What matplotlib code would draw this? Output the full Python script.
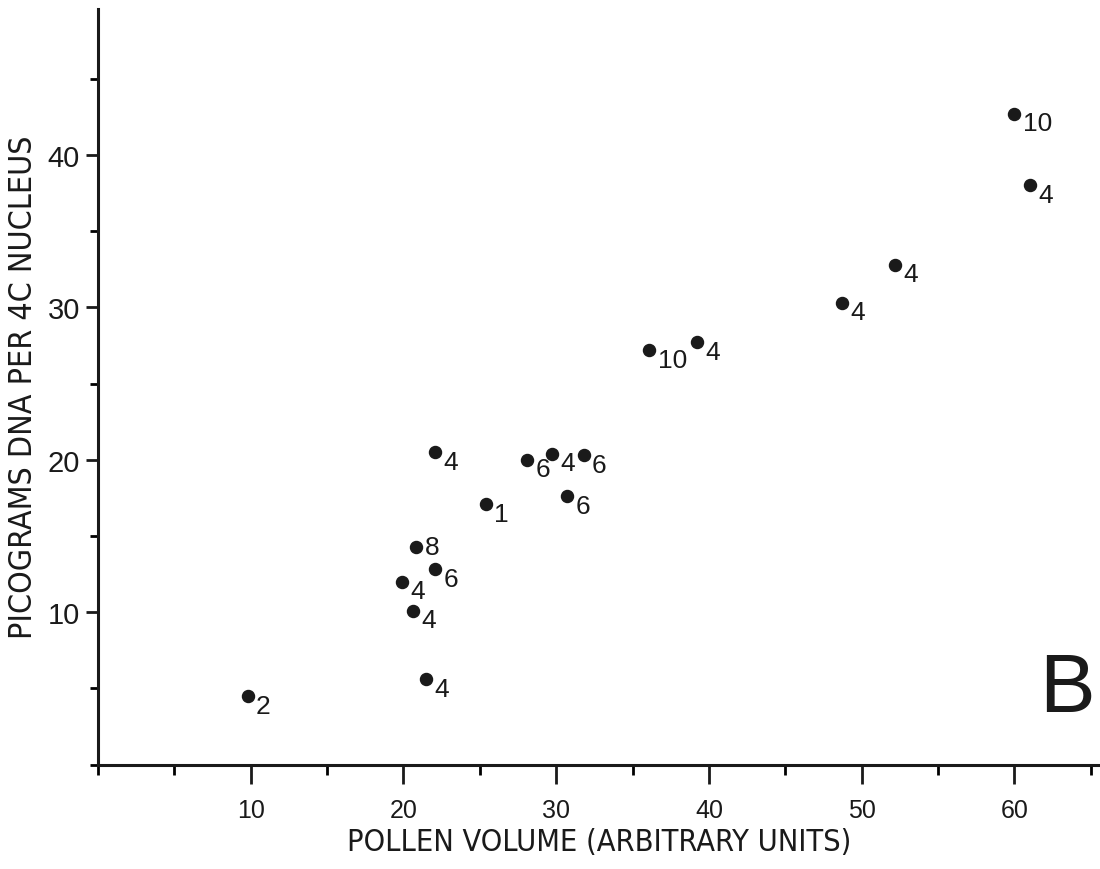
import matplotlib
matplotlib.use("Agg")
import matplotlib.pyplot as plt
from matplotlib.ticker import MultipleLocator

# ------------------------------------------------------------
# Data
# ------------------------------------------------------------

pollen_volume = [9.8, 21.5, 19.9, 20.6, 20.8, 22.1, 22.1, 25.4, 28.1, 29.7,
                 31.8, 30.7, 36.1, 39.2, 48.7, 52.2, 60.0, 61.0]
dna_pg = [4.5, 5.6, 12.0, 10.1, 14.3, 12.8, 20.5, 17.1, 20.0, 20.4,
          20.3, 17.6, 27.2, 27.7, 30.3, 32.8, 42.7, 38.0]
n_plants = ["2", "4", "4", "4", "8", "6", "4", "1", "6", "4",
            "6", "6", "10", "4", "4", "4", "10", "4"]

x_major = [10, 20, 30, 40, 50, 60]
y_major = [10, 20, 30, 40]

# label offsets in points (most labels sit below-right of the dot)
default_offset = (6, -7)
special_offsets = {4: (7, 0)}

label_font = ["DejaVu Sans"]
tick_font = ["Liberation Sans", "DejaVu Sans"]

# ------------------------------------------------------------
# Plot
# ------------------------------------------------------------

fig = plt.figure(figsize=(11, 8.7), dpi=100)
ax = fig.add_axes([0.089, 0.12, 0.911, 0.869])

ax.scatter(pollen_volume, dna_pg, s=75, color="#1a1a1a", zorder=3)

for i, (x, y, lab) in enumerate(zip(pollen_volume, dna_pg, n_plants)):
    dx, dy = special_offsets.get(i, default_offset)
    ax.annotate(lab, (x, y), xytext=(dx, dy), textcoords="offset points",
                ha="left", va="center", fontsize=19, family=tick_font,
                color="#1a1a1a")

ax.set_xlim(0, 65.6)
ax.set_ylim(0, 49.6)

ax.spines["top"].set_visible(False)
ax.spines["right"].set_visible(False)
for s in ["left", "bottom"]:
    ax.spines[s].set_linewidth(2.2)
    ax.spines[s].set_color("#1a1a1a")

ax.set_xticks(x_major)
ax.set_yticks(y_major)
ax.xaxis.set_minor_locator(MultipleLocator(5))
ax.yaxis.set_minor_locator(MultipleLocator(5))

ax.tick_params(axis="x", which="major", length=14, width=2, direction="out",
               pad=10, labelsize=18, colors="#1a1a1a")
ax.tick_params(axis="x", which="minor", length=7, width=2, direction="out")
ax.tick_params(axis="y", which="major", length=9, width=2, direction="out",
               pad=4, labelsize=21, colors="#1a1a1a")
ax.tick_params(axis="y", which="minor", length=6, width=2, direction="out")

for t in ax.get_xticklabels() + ax.get_yticklabels():
    t.set_family(tick_font)

ax.set_xlabel("POLLEN VOLUME (ARBITRARY UNITS)", fontsize=22,
              family=label_font, stretch="condensed", color="#1a1a1a",
              labelpad=4)
ax.set_ylabel("PICOGRAMS DNA PER 4C NUCLEUS", fontsize=23,
              family=label_font, stretch="condensed", color="#1a1a1a",
              labelpad=6)

fig.text(0.945, 1 - 690 / 870, "B", fontsize=60, family=tick_font,
         ha="left", va="center", color="#1a1a1a")

fig.savefig("out.png", dpi=100, facecolor="white")
